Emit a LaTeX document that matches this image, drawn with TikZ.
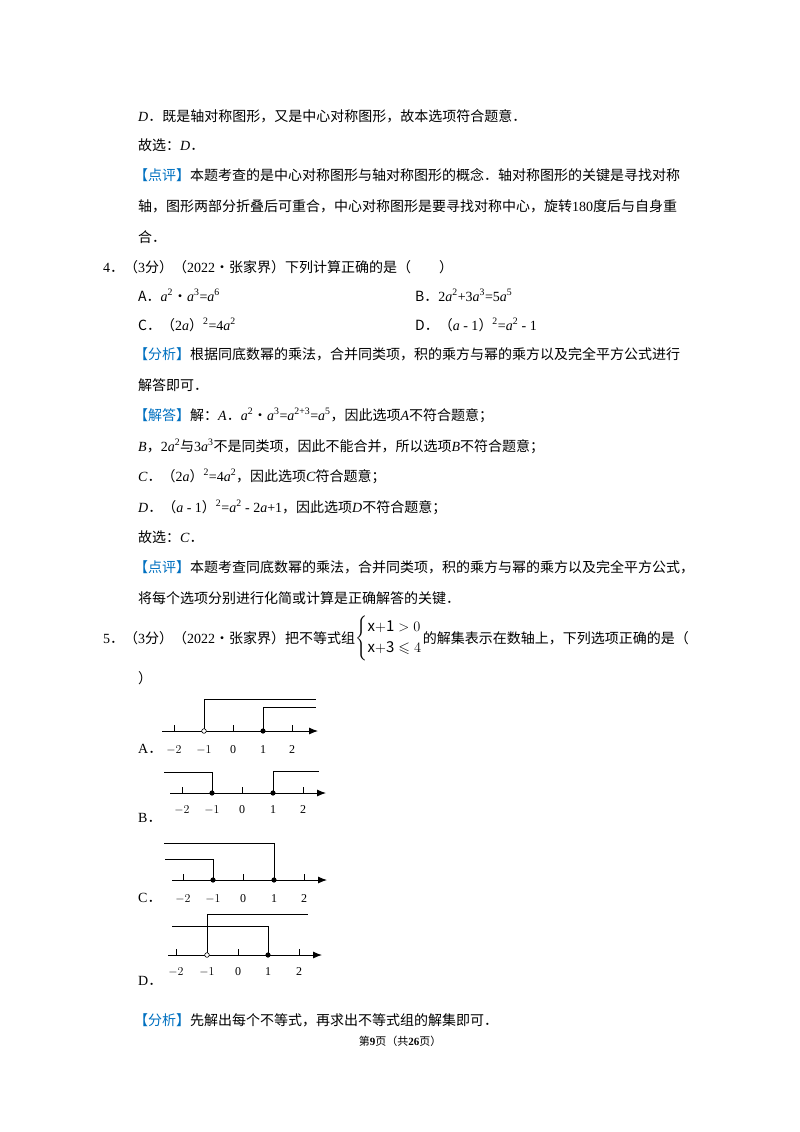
\documentclass[tikz,border=0pt]{standalone}
\usepackage{amssymb}
\usepackage{fontspec}
\setmainfont{Noto Sans CJK SC}
\newfontfamily\lat{Liberation Serif}
\newcommand\va[1]{{\lat\itshape #1}}
\newcommand\n[1]{{\lat #1}}
\newcommand\su[1]{\textsuperscript{\lat #1}}
\definecolor{tagblue}{RGB}{0,112,192}
\newcommand\tg[1]{\textcolor{tagblue}{【#1】}}
\begin{document}
\begin{tikzpicture}[x=1pt,y=-1pt,
  t/.style={anchor=base west,inner sep=0pt,font=\fontsize{14}{16}\selectfont},
  ax/.style={line width=0.9pt,-{Latex[length=9pt,width=7pt]}},
  br/.style={line width=0.9pt},
  lb/.style={anchor=base,inner sep=0pt,font=\lat\fontsize{12}{14}\selectfont}]
\usetikzlibrary{arrows.meta}
\useasboundingbox (0,0) rectangle (800,1132);
\node[t] (l1) at (138,121) {\va{D}．既是轴对称图形，又是中心对称图形，故本选项符合题意．};
\node[t] (l2) at (138,150) {故选：\va{D}．};
\node[t] (l3) at (134,180) {\tg{点评}本题考查的是中心对称图形与轴对称图形的概念．轴对称图形的关键是寻找对称};
\node[t] (l4) at (138,211) {轴，图形两部分折叠后可重合，中心对称图形是要寻找对称中心，旋转\n{180}度后与自身重};
\node[t] (l5) at (138,242) {合．};
\node[t] (l6) at (103,272) {\n{4}．（\n{3}分）（\n{2022}•张家界）下列计算正确的是（\quad\quad）};
\node[t] (l7) at (138,301) {A．\va{a}\su{2}•\va{a}\su{3}\n{=}\va{a}\su{6}};
\node[t] (l7b) at (415,301) {B．\n{2}\va{a}\su{2}\n{+3}\va{a}\su{3}\n{=5}\va{a}\su{5}};
\node[t] (l8) at (138,330) {C．（\n{2}\va{a}）\su{2}\n{=4}\va{a}\su{2}};
\node[t] (l8b) at (415,330) {D．（\va{a}\n{ - 1}）\su{2}\n{=}\va{a}\su{2}\n{ - 1}};
\node[t] (l9) at (134,359) {\tg{分析}根据同底数幂的乘法，合并同类项，积的乘方与幂的乘方以及完全平方公式进行};
\node[t] (l10) at (138,390) {解答即可．};
\node[t] (l11) at (134,420) {\tg{解答}解：\va{A}．\va{a}\su{2}•\va{a}\su{3}\n{=}\va{a}\su{2+3}\n{=}\va{a}\su{5}，因此选项\va{A}不符合题意；};
\node[t] (l12) at (138,451) {\va{B}，\n{2}\va{a}\su{2}与\n{3}\va{a}\su{3}不是同类项，因此不能合并，所以选项\va{B}不符合题意；};
\node[t] (l13) at (138,481) {\va{C}．（\n{2}\va{a}）\su{2}\n{=4}\va{a}\su{2}，因此选项\va{C}符合题意；};
\node[t] (l14) at (138,512) {\va{D}．（\va{a}\n{ - 1}）\su{2}\n{=}\va{a}\su{2}\n{ - 2}\va{a}\n{+1}，因此选项\va{D}不符合题意；};
\node[t] (l15) at (138,542) {故选：\va{C}．};
\node[t] (l16) at (134,572) {\tg{点评}本题考查同底数幂的乘法，合并同类项，积的乘方与幂的乘方以及完全平方公式，};
\node[t] (l17) at (138,603) {将每个选项分别进行化简或计算是正确解答的关键．};
\node[t] (l18) at (103,643) {\n{5}．（\n{3}分）（\n{2022}•张家界）把不等式组};
\node[anchor=west,inner sep=0pt] (sys) at (l18.base east) [yshift=5pt] {\fontsize{15}{17}\selectfont\renewcommand\arraystretch{1.25}$\left\{\begin{array}{@{}l@{}}\mathrm{x{+}1} > 0\\ \mathrm{x{+}3}\leqslant 4\end{array}\right.$};
\node[t] (l18b) at (sys.east |- l18.base) {的解集表示在数轴上，下列选项正确的是（};
\node[t] (l19) at (138,683) {）};
% A
\draw[ax] (162,731) -- (318,731);
\foreach \x/\l in {174/$-2$,204/$-1$,233/0,263/1,292/2}{\draw[br] (\x,731)--(\x,725); \node[lb] at (\x,753) {\l};}
\draw[br] (204,727) -- (204,699) -- (316,699);
\draw[br] (263,731) -- (263,707) -- (316,707);
\draw[fill=white,line width=0.6pt] (204,731) circle (2.3);
\fill (263,731) circle (2.6);
\node[t] at (138,753) {\n{A}．};
% B
\draw[ax] (170,793) -- (326,793);
\foreach \x/\l in {182/$-2$,212/$-1$,242/0,273/1,303/2}{\draw[br] (\x,793)--(\x,787); \node[lb] at (\x,813) {\l};}
\draw[br] (164,772) -- (212,772) -- (212,793);
\draw[br] (273,793) -- (273,771) -- (319,771);
\fill (212,793) circle (2.6); \fill (273,793) circle (2.6);
\node[t] at (138,822) {\n{B}．};
% C
\draw[ax] (172,880) -- (327,880);
\foreach \x/\l in {183/$-2$,213/$-1$,243/0,274/1,304/2}{\draw[br] (\x,880)--(\x,874); \node[lb] at (\x,902) {\l};}
\draw[br] (164,843) -- (274,843) -- (274,880);
\draw[br] (165,859) -- (213,859) -- (213,880);
\fill (213,880) circle (2.6); \fill (274,880) circle (2.6);
\node[t] at (138,902) {\n{C}．};
% D
\draw[ax] (168,955) -- (322,955);
\foreach \x/\l in {176/$-2$,207/$-1$,238/0,268/1,299/2}{\draw[br] (\x,955)--(\x,949); \node[lb] at (\x,975) {\l};}
\draw[br] (207,952) -- (207,914) -- (308,914);
\draw[br] (172,926) -- (268,926) -- (268,955);
\draw[fill=white,line width=0.6pt] (207,955) circle (2.3);
\fill (268,955) circle (2.6);
\node[t] at (138,985) {\n{D}．};
\node[t] (l20) at (134,1025) {\tg{分析}先解出每个不等式，再求出不等式组的解集即可．};
\node[anchor=base,inner sep=0pt,font=\fontsize{11}{13}\selectfont] (pg) at (400,1045) {第\textbf{\n{9}}页（共\textbf{\n{26}}页）};
\end{tikzpicture}
\end{document}
